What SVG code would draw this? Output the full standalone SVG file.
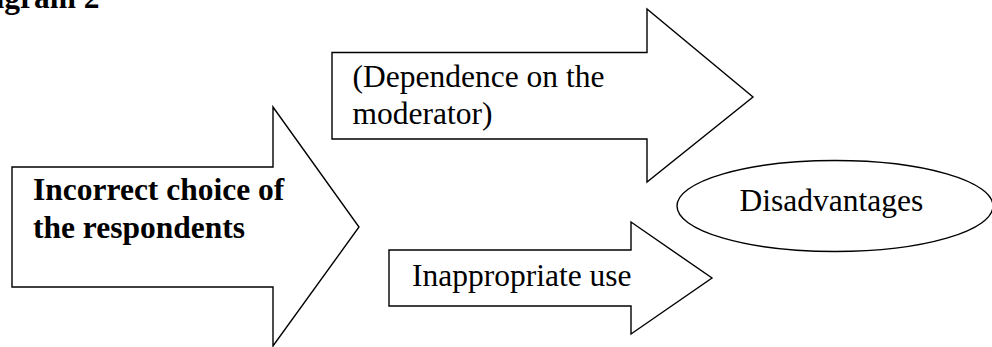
<svg xmlns="http://www.w3.org/2000/svg" width="992" height="347" viewBox="0 0 992 347">
<style>
.shape{fill:#fff;stroke:#000;stroke-width:1.4}
.t{font-family:"Liberation Serif","Times New Roman",serif;font-size:31.5px;fill:#000}
.b{font-weight:bold}
</style>
<rect width="992" height="347" fill="#fff"/>
<text class="t b" x="-43" y="8">Diagram 2</text>
<g id="node-incorrect">
<polygon class="shape" points="12,167 273,167 273,107 359,227 273,346 273,287 12,287"/>
<text class="t b" x="33" y="200">Incorrect choice of</text>
<text class="t b" x="33" y="238">the respondents</text>
</g>
<g id="node-dependence">
<polygon class="shape" points="332,52.5 647,52.5 647,9 753,97 647,182 647,139 332,139"/>
<text class="t" x="352.5" y="86.5">(Dependence on the</text>
<text class="t" x="352.5" y="123.5">moderator)</text>
</g>
<g id="node-inappropriate">
<polygon class="shape" points="389,250 631,250 631,222 712,278 631,334 631,306 389,306"/>
<text class="t" x="412" y="286">Inappropriate use</text>
</g>
<g id="node-disadvantages">
<ellipse class="shape" cx="835" cy="206" rx="158" ry="45.5"/>
<text class="t" x="739.5" y="211">Disadvantages</text>
</g>
<g id="connectors"/>
</svg>
